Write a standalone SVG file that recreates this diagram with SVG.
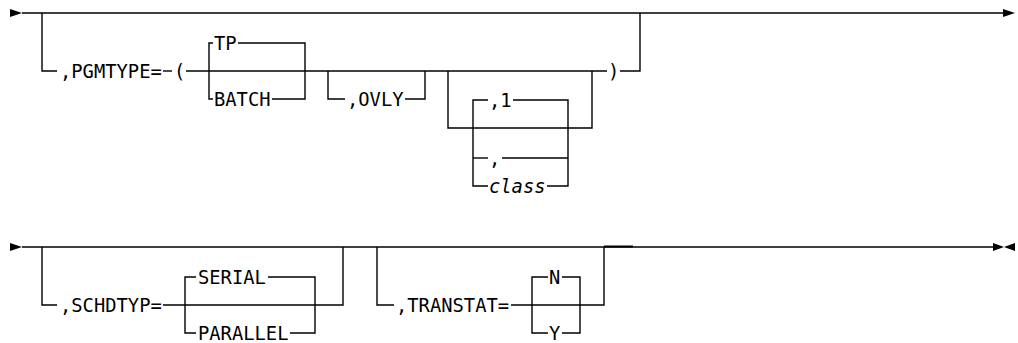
<svg xmlns="http://www.w3.org/2000/svg" width="1018" height="343" viewBox="0 0 1018 343">
<style>
.ln{fill:none;stroke:#000;stroke-width:1.4;stroke-linejoin:miter;stroke-linecap:butt}
.ar{fill:#000;stroke:none}
.t{font-family:"DejaVu Sans Mono","Liberation Mono",monospace;font-size:18.8px;fill:#000}
.i{font-style:italic}
</style>
<rect width="1018" height="343" fill="#fff"/>
<g id="connectors">
  <!-- row 1 -->
  <polygon class="ar" points="10,9 22,13 10,17"/>
  <path class="ln" d="M22,13 H1003"/>
  <polygon class="ar" points="1003,9 1015,13 1003,17"/>
  <path class="ln" d="M42,13 V71 H57"/>
  <path class="ln" d="M163,71 H172"/>
  <path class="ln" d="M186,71 H607"/>
  <path class="ln" d="M620,71 H640 V13"/>
  <!-- TP / BATCH -->
  <path class="ln" d="M213,43 H209 V99 H213"/>
  <path class="ln" d="M238,43 H305 V99 H272"/>
  <!-- OVLY -->
  <path class="ln" d="M328,71 V99 H345"/>
  <path class="ln" d="M405,99 H425 V71"/>
  <!-- outer optional -->
  <path class="ln" d="M448,71 V128 H592 V71"/>
  <!-- inner choice -->
  <path class="ln" d="M488,100 H473 V186 H488"/>
  <path class="ln" d="M473,158 H488"/>
  <path class="ln" d="M513,100 H568 V186 H547"/>
  <path class="ln" d="M502,158 H568"/>
  <!-- row 2 -->
  <polygon class="ar" points="10,243 22,247 10,251"/>
  <path class="ln" d="M22,247 H993"/>
  <polygon class="ar" points="993,243 1004,247 993,251"/>
  <polygon class="ar" points="1015,243 1004,247 1015,251"/>
  <path class="ln" d="M42,247 V305 H57"/>
  <path class="ln" d="M163,305 H343 V247"/>
  <path class="ln" d="M196,277 H185 V333 H196"/>
  <path class="ln" d="M268,277 H315 V333 H290"/>
  <path class="ln" d="M377,247 V305 H394"/>
  <path class="ln" d="M511,305 H604 V247"/>
  <path class="ln" d="M548,277 H532 V333 H548"/>
  <path class="ln" d="M562,277 H580 V333 H562"/>
  <path class="ln" d="M604,246.5 H633" style="stroke-width:2"/>
</g>
<g id="pgmtype"><text class="t" x="60" y="78">,PGMTYPE=</text></g>
<g id="lparen"><text class="t" x="174" y="78">(</text></g>
<g id="tp"><text class="t" x="214" y="50">TP</text></g>
<g id="batch"><text class="t" x="214" y="106">BATCH</text></g>
<g id="ovly"><text class="t" x="347" y="106">,OVLY</text></g>
<g id="one"><text class="t" x="489" y="107">,1</text></g>
<g id="comma"><text class="t" x="489" y="165">,</text></g>
<g id="class"><text class="t i" x="489" y="193">class</text></g>
<g id="rparen"><text class="t" x="608" y="78">)</text></g>
<g id="schdtyp"><text class="t" x="60" y="312">,SCHDTYP=</text></g>
<g id="serial"><text class="t" x="198" y="284">SERIAL</text></g>
<g id="parallel"><text class="t" x="198" y="340">PARALLEL</text></g>
<g id="transtat"><text class="t" x="396" y="312">,TRANSTAT=</text></g>
<g id="n"><text class="t" x="549" y="284">N</text></g>
<g id="y"><text class="t" x="549" y="340">Y</text></g>
</svg>
